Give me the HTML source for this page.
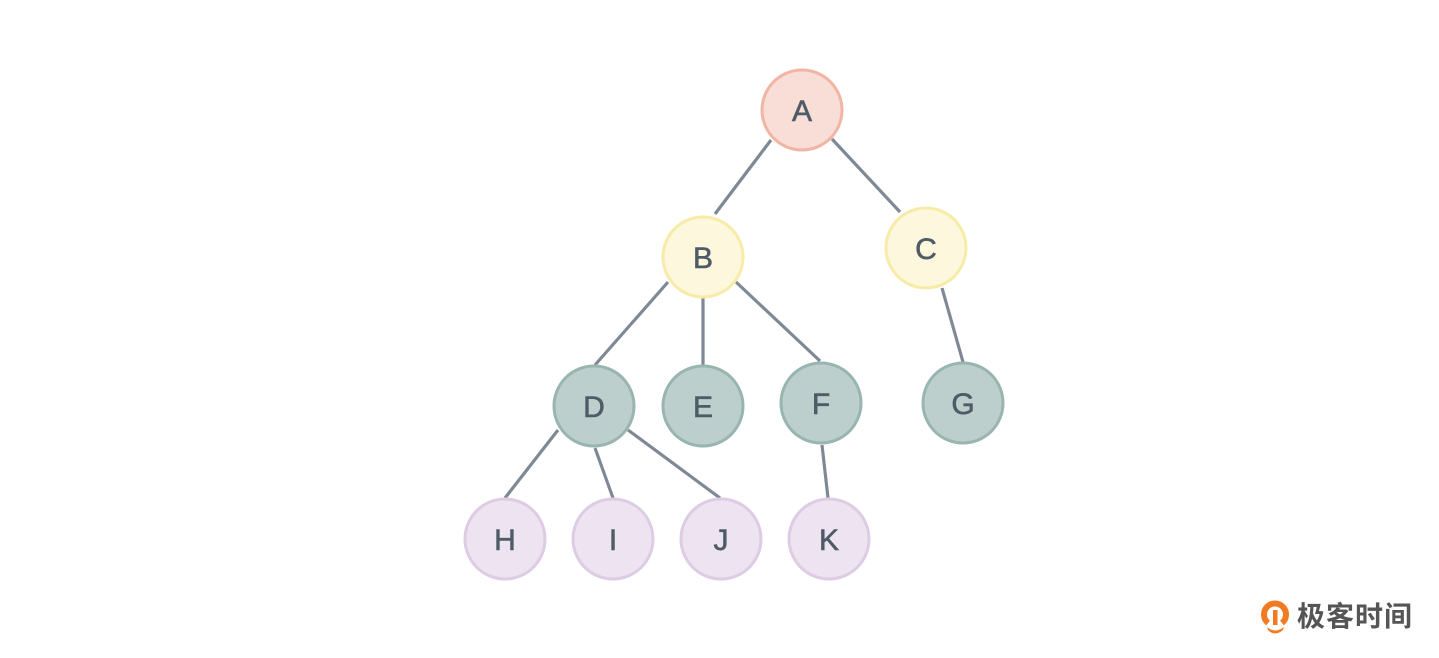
<!DOCTYPE html>
<html>
<head>
<meta charset="utf-8">
<style>
html,body{margin:0;padding:0;background:#ffffff;}
body{width:1439px;height:658px;overflow:hidden;}
svg{display:block;}
</style>
</head>
<body>
<svg width="1439" height="658" viewBox="0 0 1439 658" xmlns="http://www.w3.org/2000/svg">
  <g stroke="#7f8996" stroke-width="3.2" stroke-linecap="butt" fill="none">
    <line x1="771" y1="140" x2="715" y2="214"/>
    <line x1="832" y1="139" x2="900" y2="212"/>
    <line x1="668" y1="282" x2="595" y2="365"/>
    <line x1="703" y1="298" x2="703" y2="366"/>
    <line x1="736" y1="282" x2="820" y2="361"/>
    <line x1="942" y1="288" x2="963" y2="362"/>
    <line x1="558" y1="430" x2="505" y2="498"/>
    <line x1="595" y1="448" x2="613" y2="498"/>
    <line x1="628" y1="430" x2="720" y2="498"/>
    <line x1="822" y1="445" x2="828" y2="498"/>
  </g>
  <g stroke-width="3">
    <circle cx="802" cy="110" r="40" fill="#f9ddd7" stroke="#f1b5a6"/>
    <circle cx="703" cy="257" r="40" fill="#fdf8dd" stroke="#f8eba8"/>
    <circle cx="926" cy="248" r="40" fill="#fdf8dd" stroke="#f8eba8"/>
    <circle cx="594" cy="406" r="40" fill="#bdcfcc" stroke="#99b5b0"/>
    <circle cx="703" cy="406" r="40" fill="#bdcfcc" stroke="#99b5b0"/>
    <circle cx="821" cy="403" r="40" fill="#bdcfcc" stroke="#99b5b0"/>
    <circle cx="963" cy="403" r="40" fill="#bdcfcc" stroke="#99b5b0"/>
    <circle cx="505" cy="539" r="40" fill="#eee4f1" stroke="#ddcce4"/>
    <circle cx="613" cy="539" r="40" fill="#eee4f1" stroke="#ddcce4"/>
    <circle cx="721" cy="539" r="40" fill="#eee4f1" stroke="#ddcce4"/>
    <circle cx="829" cy="539" r="40" fill="#eee4f1" stroke="#ddcce4"/>
  </g>
  <g font-family="'Liberation Sans', Arial, sans-serif" font-size="30" fill="#4f5b67" stroke="#4f5b67" stroke-width="0.6" text-anchor="middle">
    <text x="802" y="121">A</text>
    <text x="703" y="268">B</text>
    <text x="926" y="259">C</text>
    <text x="594" y="417">D</text>
    <text x="703" y="417">E</text>
    <text x="821" y="414">F</text>
    <text x="963" y="414">G</text>
    <text x="505" y="550">H</text>
    <text x="613" y="550">I</text>
    <text x="721" y="550">J</text>
    <text x="829" y="550">K</text>
  </g>
  <!-- logo -->
  <g>
    <path d="M1282 623 A11 11 0 1 0 1268 623" fill="none" stroke="#f17a22" stroke-width="6"/>
    <rect x="1273" y="610" width="4.5" height="15" fill="#f17a22"/>
    <path d="M1267 627 Q1275 634 1284 627 L1283 630 Q1275 637 1268 630 Z" fill="#f17a22"/>
  </g>
  <text x="1297" y="626" font-family="'Liberation Sans','Noto Sans CJK SC',sans-serif" font-size="28" font-weight="bold" fill="#555555" letter-spacing="1">极客时间</text>
</svg>
</body>
</html>
